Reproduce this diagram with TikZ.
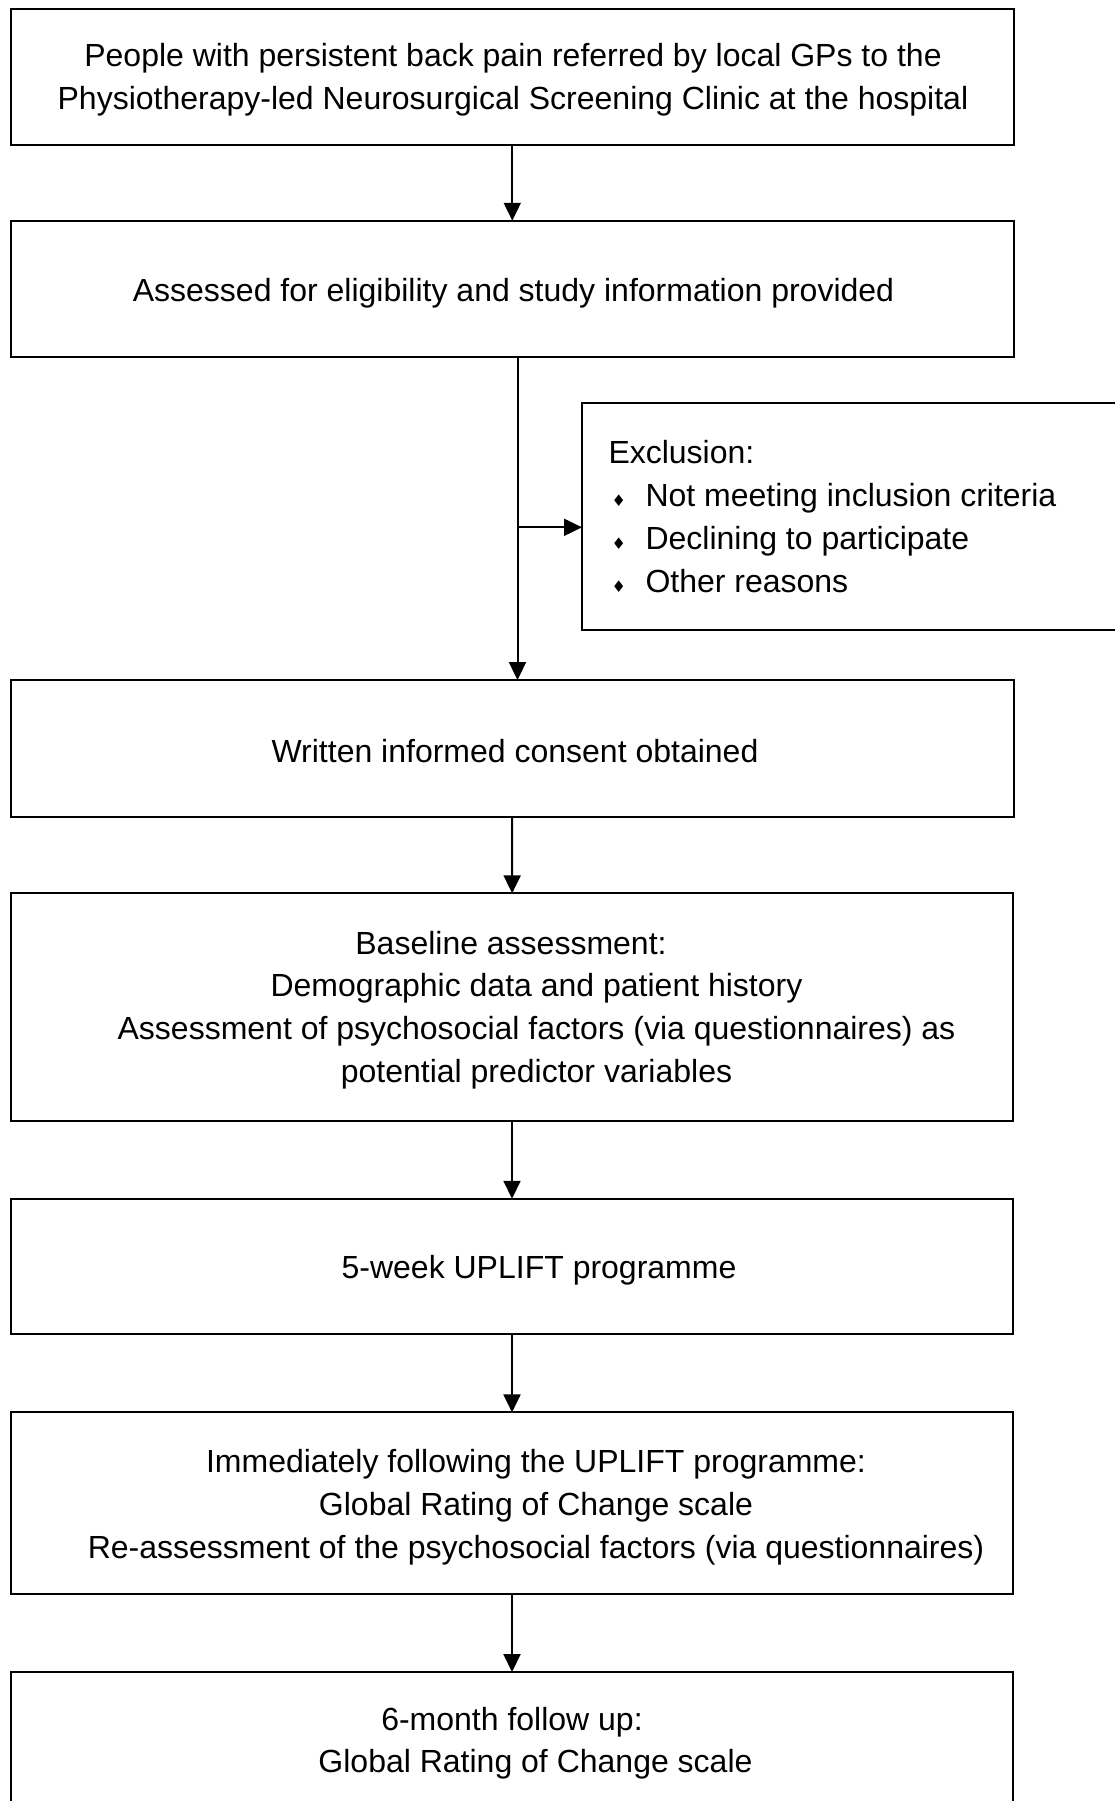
\documentclass[tikz,border=0pt]{standalone}
\usepackage{fontspec}
\setmainfont{Liberation Sans}
\newfontfamily\djv{DejaVu Sans}
\usetikzlibrary{arrows.meta}
\newcommand\exbullet{\makebox[37pt][l]{\hspace{3pt}{\djv\fontsize{16}{16}\selectfont ♦}}}
\begin{document}
\begin{tikzpicture}[x=1pt,y=-1pt,
  box/.style={draw, line width=2pt, inner sep=0pt, outer sep=0pt, minimum width=1002.5pt},
  txt/.style={font=\fontsize{32}{42.8}\selectfont, align=center, inner sep=0pt},
  arr/.style={line width=2pt, -{Triangle[length=18pt,width=17pt]}}]
\useasboundingbox (0,0) rectangle (1115,1801);
\clip (0,0) rectangle (1115,1801);
\fill[white] (0,0) rectangle (1115,1801);

\node[box, minimum height=136.5pt] (b1) at (512.3,76.8) {};
\node[txt] (t1) at (513,79.5)
  {People with persistent back pain referred by local GPs to the\\Physiotherapy-led Neurosurgical Screening Clinic at the hospital};
\node[box, minimum height=136.3pt] (b2) at (512.3,288.9) {};
\node[txt] (t2) at (513.5,293)
  {Assessed for eligibility and study information provided};
\node[box, minimum width=560pt, minimum height=227.4pt] (ex) at (862,516.7) {};
\node[txt, align=left, anchor=west] (tex) at (608.3,516.5)
  {Exclusion:\\\exbullet Not meeting inclusion criteria\\\exbullet Declining to participate\\\exbullet Other reasons};
\node[box, minimum height=136.5pt] (b3) at (512.3,748.3) {};
\node[txt] (t3) at (515,751.5) {Written informed consent obtained};
\node[box, minimum width=1002pt, minimum height=227.3pt] (b4) at (512,1007) {};
\node[txt] (t4a) at (511,943.5) {Baseline assessment:};
\node[txt] (t4b) at (536.5,1031) {Demographic data and patient history\\Assessment of psychosocial factors (via questionnaires) as\\potential predictor variables};
\node[box, minimum width=1002pt, minimum height=135.5pt] (b5) at (512,1266.5) {};
\node[txt] (t5) at (539,1270.5) {5-week UPLIFT programme};
\node[box, minimum width=1002pt, minimum height=181.4pt] (b6) at (512,1503.1) {};
\node[txt] (t6) at (536,1507) {Immediately following the UPLIFT programme:\\Global Rating of Change scale\\Re-assessment of the psychosocial factors (via questionnaires)};
\node[box, minimum width=1002pt, minimum height=136pt] (b7) at (512,1740) {};
\node[txt] (t7a) at (512,1722.5) {6-month follow up:};
\node[txt] (t7b) at (535.5,1764.5) {Global Rating of Change scale};

\coordinate (j) at (517.5,527.3);
\draw[arr] (b1) -- (b2);
\draw[arr] (b2.south -| j) -- (b3.north -| j);
\draw[arr] (j) -- (ex.west |- j);
\draw[arr] (b3) -- (b4);
\draw[arr] (b4) -- (b5);
\draw[arr] (b5) -- (b6);
\draw[arr] (b6) -- (b7);
\end{tikzpicture}
\end{document}
